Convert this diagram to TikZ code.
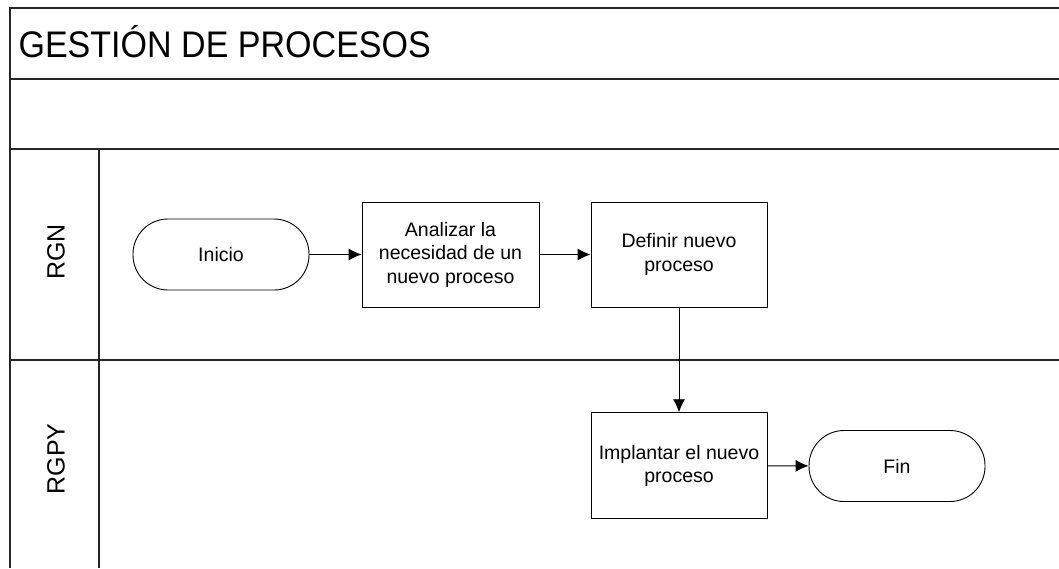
\documentclass[tikz,border=0pt]{standalone}
\usepackage{fontspec}
\setmainfont{Liberation Sans}
\newfontfamily\titlefont[FakeStretch=0.92]{Liberation Sans}
\usetikzlibrary{arrows.meta}
\begin{document}
\begin{tikzpicture}[x=1pt,y=-1pt,
  frame/.style={line width=1.2pt,draw=black!85},
  procbox/.style={draw,line width=0.9pt,minimum width=176pt,minimum height=105pt,
    align=center,inner sep=2pt,font=\fontsize{19.5}{23.5}\selectfont},
  terminal/.style={draw,line width=0.9pt,minimum width=176pt,minimum height=71pt,
    rounded corners=35pt,font=\fontsize{19.5}{23.5}\selectfont},
  lanelabel/.style={rotate=90,font=\fontsize{25}{30}\selectfont},
  flow/.style={line width=0.9pt,-{Latex[length=13pt,width=12pt]}}]
\useasboundingbox (0,0) rectangle (1059,568);
% pool frame and lane dividers
\draw[frame] (1059,8) -- (10,8) -- (10,568);
\draw[frame] (10,79) -- (1059,79);
\draw[frame] (10,149) -- (1059,149);
\draw[frame] (10,360) -- (1059,360);
\draw[frame] (99,149) -- (99,568);
% titles
\node[anchor=west,font=\titlefont\fontsize{37}{42}\selectfont] (title) at (15,42) {GESTIÓN DE PROCESOS};
\node[lanelabel] (rgn) at (56,252) {RGN};
\node[lanelabel] (rgpy) at (56,459) {RGPY};
% flow elements
\node[terminal] (inicio) at (221,254.5) {Inicio};
\node[procbox,minimum width=177pt] (analizar) at (450.5,254.5) {Analizar la\\necesidad de un\\nuevo proceso};
\node[procbox] (definir) at (679,254.5) {Definir nuevo\\proceso};
\node[procbox,minimum height=106pt] (implantar) at (679,465.7) {Implantar el nuevo\\proceso};
\node[terminal] (fin) at (897,466) {Fin};
% connectors
\draw[flow] (inicio) -- (analizar);
\draw[flow] (analizar) -- (definir);
\draw[flow] (definir) -- (implantar);
\draw[flow] (implantar) -- (fin);
\end{tikzpicture}
\end{document}
